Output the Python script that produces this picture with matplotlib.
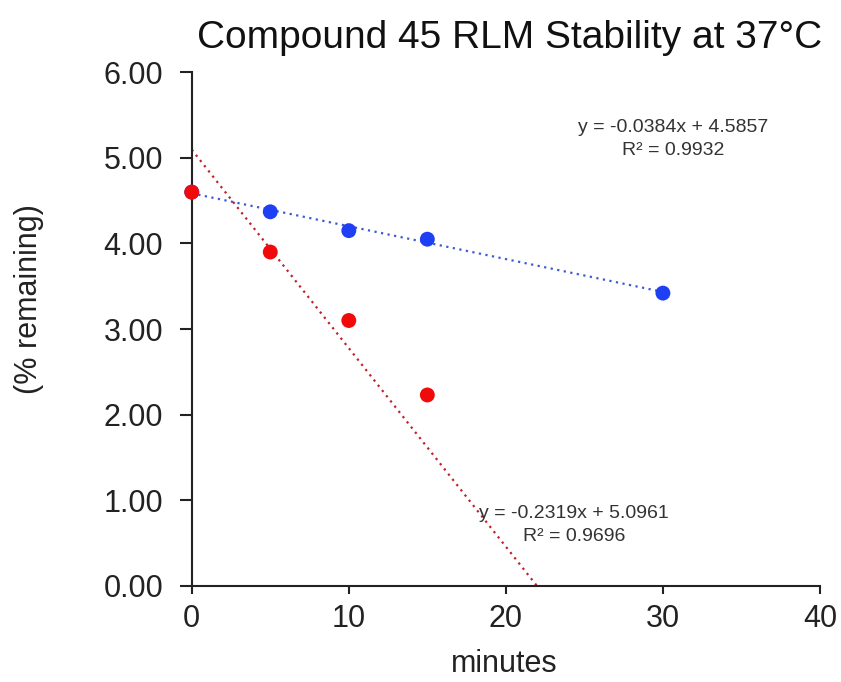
import numpy as np
import matplotlib
matplotlib.use("Agg")
import matplotlib.pyplot as plt

plt.rcParams['font.family'] = ['Liberation Sans', 'DejaVu Sans']

# blue series (x=0 point hidden under the red one)
blue_x = [0, 5, 10, 15, 30]
blue_y = [4.60, 4.37, 4.15, 4.05, 3.42]
# red series
red_x = [0, 5, 10, 15]
red_y = [4.60, 3.90, 3.10, 2.23]

blue_fit = (-0.0384, 4.5857)
red_fit = (-0.2319, 5.0961)
blue_eq = "y = -0.0384x + 4.5857\nR² = 0.9932"
red_eq = "y = -0.2319x + 5.0961\nR² = 0.9696"

x_ticks = [0, 10, 20, 30, 40]
y_ticks = [0, 1, 2, 3, 4, 5, 6]

txt = '#222222'

fig = plt.figure(figsize=(8.41, 6.82), dpi=100)
ax = fig.add_axes([0.228, 0.141, 0.747, 0.753])

# trendlines
bx = np.array([0, 30])
ax.plot(bx, blue_fit[0]*bx + blue_fit[1], color='#3b5bd6', ls=(0, (1, 2)), lw=1.6, zorder=2)
rx = np.array([0, -red_fit[1]/red_fit[0]])
ax.plot(rx, red_fit[0]*rx + red_fit[1], color='#c0202a', ls=(0, (1, 2)), lw=1.6, zorder=2)

ax.scatter(blue_x, blue_y, s=115, color='#1f3ff5', zorder=3, edgecolors='none', clip_on=False)
ax.scatter(red_x, red_y, s=115, color='#f00a0a', zorder=4, edgecolors='none', clip_on=False)

ax.text(0.767, 0.87, blue_eq, transform=ax.transAxes, ha='center', va='center',
        fontsize=14, color='#333333', linespacing=1.45)
ax.text(0.608, 0.119, red_eq, transform=ax.transAxes, ha='center', va='center',
        fontsize=14, color='#333333', linespacing=1.45)

ax.set_xlim(0, 40)
ax.set_ylim(0, 6)
ax.set_xticks(x_ticks)
ax.set_yticks(y_ticks)
ax.set_yticklabels([f"{v:.2f}" for v in y_ticks])
ax.tick_params(axis='y', direction='out', length=8.5, width=1.5, labelsize=22, colors=txt, pad=12)
ax.tick_params(axis='x', direction='out', length=6, width=1.5, labelsize=22, colors=txt, pad=7)
for s in ['top', 'right']:
    ax.spines[s].set_visible(False)
for s in ['left', 'bottom']:
    ax.spines[s].set_linewidth(1.5)
    ax.spines[s].set_color(txt)

fig.text(0.600, 0.026, 'minutes', fontsize=22, color=txt, ha='center', va='center')
fig.text(0.0345, 0.5616, '(% remaining)', fontsize=22, color=txt, ha='center', va='center',
         rotation=90)
fig.text(0.606, 0.945, 'Compound 45 RLM Stability at 37°C', fontsize=28, color='#111111',
         ha='center', va='center')

fig.savefig('out.png', dpi=100)
